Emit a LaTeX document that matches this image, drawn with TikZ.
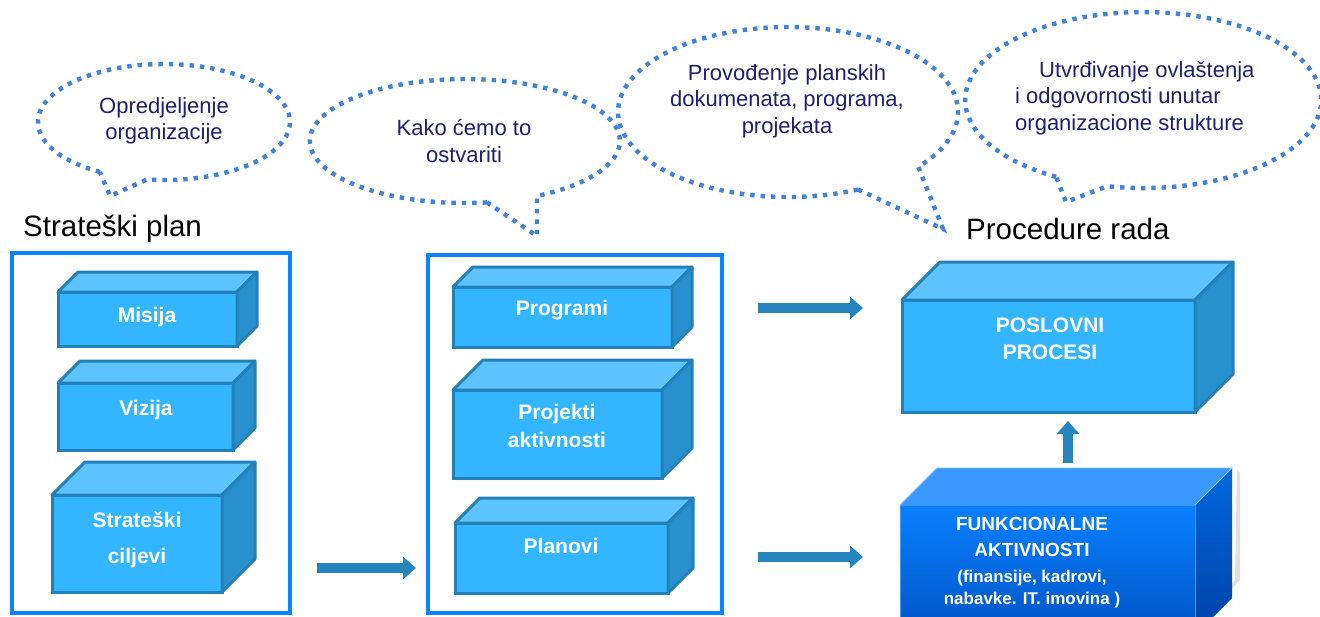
\documentclass[tikz,border=0pt]{standalone}
\usepackage{fontspec}
\setmainfont{Liberation Sans}
\usetikzlibrary{arrows.meta,calc}
\definecolor{frameblue}{RGB}{12,132,255}
\definecolor{boxfront}{RGB}{51,182,255}
\definecolor{boxtop}{RGB}{94,196,255}
\definecolor{boxside}{RGB}{40,145,205}
\definecolor{boxedge}{RGB}{36,128,184}
\definecolor{arrowblue}{RGB}{38,133,188}
\definecolor{dotblue}{RGB}{66,131,214}
\definecolor{navytext}{RGB}{30,32,112}
\definecolor{funtop}{RGB}{10,128,255}
\definecolor{funbot}{RGB}{0,84,196}
\definecolor{funtopface}{RGB}{58,152,255}
\definecolor{funsidetop}{RGB}{0,104,222}
\definecolor{funsidebot}{RGB}{0,66,165}
\tikzset{
  frontface/.style={draw=boxedge, line width=3pt, fill=boxfront, outer sep=0pt, inner sep=0pt},
  topface/.style={draw=boxedge, line width=3pt, fill=boxtop, line join=round},
  sideface/.style={draw=boxedge, line width=3pt, fill=boxside, line join=round},
  boxtext/.style={text=white, font=\bfseries\fontsize{21}{28}\selectfont, align=center, inner sep=0pt},
  frame/.style={draw=frameblue, line width=4pt, outer sep=0pt, inner sep=0pt},
  bubble/.style={draw=dotblue, line width=4.4pt, dash pattern=on 4.4pt off 6pt},
  bubbletext/.style={text=navytext, font=\fontsize{22}{26.5}\selectfont, align=center, inner sep=0pt},
  heading/.style={font=\fontsize{29.5}{34}\selectfont, text=black, inner sep=0pt},
  fatarrow/.style={draw=arrowblue, line width=9.5pt, -{Triangle[width=22pt,length=13pt]}},
}
\newcommand\mybox[6]{%
  \node[frontface, minimum width=#4pt, minimum height=#5pt] (#1) at (#2,#3) {};
  \draw[topface] (#1.north west) -- ++(#6,-#6) -- ([shift={(#6,-#6)}]#1.north east) -- (#1.north east) -- cycle;
  \draw[sideface] (#1.north east) -- ++(#6,-#6) -- ([shift={(#6,-#6)}]#1.south east) -- (#1.south east) -- cycle;
}
\begin{document}
\begin{tikzpicture}[x=1pt,y=-1pt]
\useasboundingbox (0,0) rectangle (1320,616);
\clip (0,0) rectangle (1320,616);
\fill[white] (0,0) rectangle (1320,616);

% speech bubbles
\draw[bubble] (100,172) coordinate (b1s) arc[start angle=120.5, end angle=457.8, x radius=126, y radius=58] -- (110,196) coordinate (b1t) -- cycle;
\draw[bubble] (487,202.4) coordinate (b2s) arc[start angle=81.8, end angle=422.3, x radius=155, y radius=62] -- (537,236) coordinate (b2t) -- cycle;
\draw[bubble] (858,189.5) coordinate (b3s) arc[start angle=65.7, end angle=400, x radius=170, y radius=85] -- (943,229) coordinate (b3t) -- cycle;
\draw[bubble] (1056.1,176.8) coordinate (b4s) arc[start angle=119.3, end angle=461.7, x radius=178, y radius=88] -- (1066,202) coordinate (b4t) -- cycle;

\node[bubbletext] (t1) at (164,121) {Opredjeljenje\\organizacije};
\node[bubbletext] (t2) at (464,141) {Kako ćemo to\\ostvariti};
\node[bubbletext] (t3) at (787,101) {Provođenje planskih\\dokumenata, programa,\\projekata};
\node[bubbletext, align=left, anchor=west] (t4) at (1015,98) {\hspace*{24pt}Utvrđivanje ovlaštenja\\i odgovornosti unutar\\organizacione strukture};

% headings
\node[heading, anchor=west] (h1) at (23,229) {Strateški plan};
\node[heading, anchor=west] (h2) at (966,229) {Procedure rada};

% frames
\node[frame, minimum width=278pt, minimum height=360pt] (f1) at (151,433) {};
\node[frame, minimum width=294pt, minimum height=358pt] (f2) at (575,434) {};

% left boxes
\mybox{misija}{147.5}{319}{179}{54}{20}
\node[boxtext] (misijat) at (147,317) {Misija};
\mybox{vizija}{145.5}{416.5}{175}{67}{22}
\node[boxtext] (vizijat) at (146,410) {Vizija};
\mybox{ciljevi}{137}{543.5}{170}{97}{33}
\node[boxtext, font=\bfseries\fontsize{21}{36}\selectfont] (ciljevit) at (137,540) {Strateški\\ciljevi};

% middle boxes
\mybox{programi}{562.5}{317}{219}{60}{20}
\node[boxtext] (programit) at (562,310) {Programi};
\mybox{projekti}{557.5}{434}{209}{88}{30}
\node[boxtext] (projektit) at (557,426) {Projekti\\aktivnosti};
\mybox{planovi}{561.5}{558}{213}{70}{25}
\node[boxtext] (planovit) at (561,546) {Planovi};

% right top box
\mybox{poslovni}{1048.5}{356}{293}{112}{38}
\node[boxtext, font=\bfseries\fontsize{21}{27}\selectfont] (poslovnit) at (1050,339) {POSLOVNI\\PROCESI};

% right bottom box
\fill[black!12] (1237,470) -- (1240,473) -- (1240,580) -- (1200,620) -- (1200,616) -- (1235,580) -- cycle;
\node[top color=funtop, bottom color=funbot, draw=funtopface, line width=0.8pt, outer sep=0pt, inner sep=0pt, minimum width=295pt, minimum height=130pt] (fun) at (1047.5,570) {};
\fill[funtopface] (fun.north west) -- ++(37,-37) -- ([shift={(37,-37)}]fun.north east) -- (fun.north east) -- cycle;
\shade[top color=funsidetop, bottom color=funsidebot] (fun.north east) -- ++(37,-37) -- ([shift={(37,-37)}]fun.south east) -- (fun.south east) -- cycle;
\draw[funtopface!60!white, line width=0.8pt] (fun.north west) -- ++(37,-37) -- ([shift={(37,-37)}]fun.north east) -- (fun.north east);
\draw[funtopface, line width=0.8pt] (fun.north east) -- (fun.south east);
\node[boxtext, font=\bfseries\fontsize{19}{26}\selectfont] (funa) at (1032,537) {FUNKCIONALNE\\AKTIVNOSTI};
\node[boxtext, font=\bfseries\fontsize{17}{22}\selectfont] (funb) at (1032,589) {(finansije, kadrovi,\\nabavke. IT. imovina )};

% arrows
\coordinate (a1s) at (317,568); \coordinate (a1e) at (416,568);
\coordinate (a2s) at (758,308); \coordinate (a2e) at (863,308);
\coordinate (a3s) at (758,557); \coordinate (a3e) at (863,557);
\coordinate (a4s) at (1068,463); \coordinate (a4e) at (1068,421);
\draw[fatarrow] (a1s) -- (a1e);
\draw[fatarrow] (a2s) -- (a2e);
\draw[fatarrow] (a3s) -- (a3e);
\draw[fatarrow] (a4s) -- (a4e);
\end{tikzpicture}
\end{document}
